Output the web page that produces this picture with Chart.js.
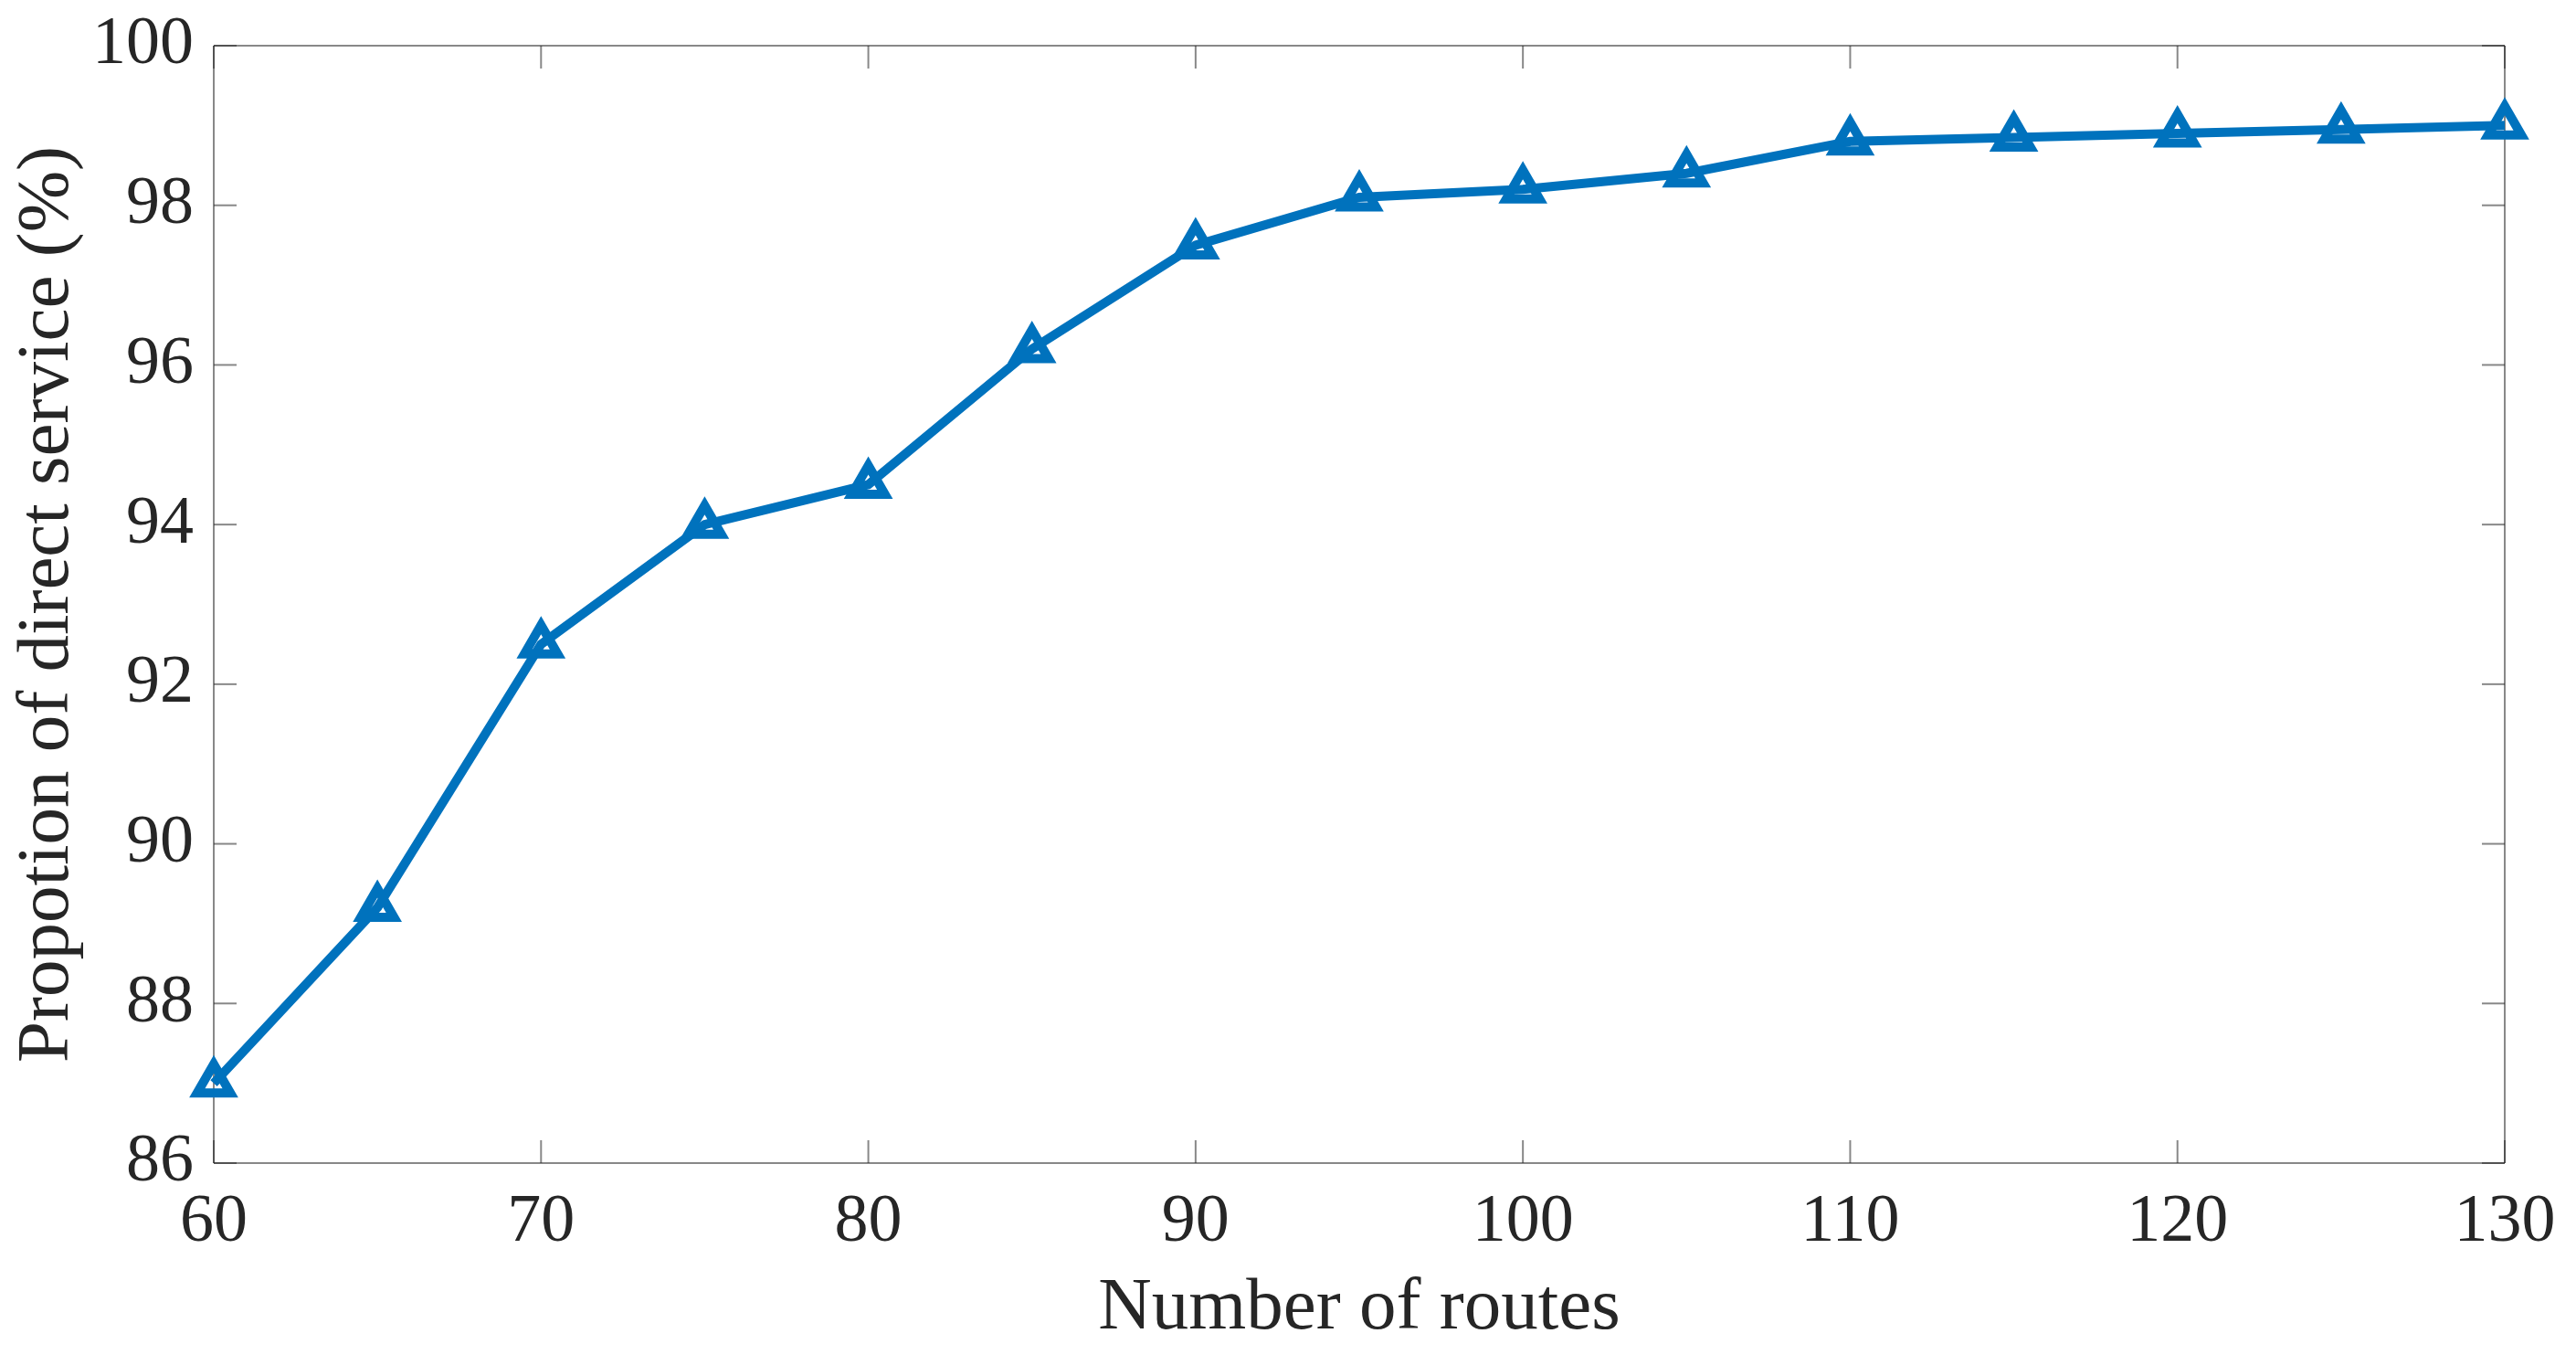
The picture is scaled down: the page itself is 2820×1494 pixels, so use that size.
<!DOCTYPE html>
<html><head><meta charset="utf-8">
<script src="https://cdn.jsdelivr.net/npm/chart.js@4"></script>
<style>html,body{margin:0;padding:0;background:#fff}#wrap{width:2820px;height:1494px}</style>
</head><body><div id="wrap"><canvas id="c" width="2820" height="1494"></canvas></div>
<script>
const routes = [60, 65, 70, 75, 80, 85, 90, 95, 100, 105, 110, 115, 120, 125, 130];
const directService = [87.0, 89.2, 92.5, 94.0, 94.5, 96.2, 97.5, 98.1, 98.2, 98.4, 98.8, 98.85, 98.9, 98.95, 99.0];
const xTicks = [60, 70, 80, 90, 100, 110, 120, 130];
const yTicks = [86, 88, 90, 92, 94, 96, 98, 100];
const xTitle = 'Number of routes';
const yTitle = 'Propotion of direct service (%)';

const FONT = "'Liberation Serif', 'Times New Roman', serif";
const TEXT = '#262626';
const BLUE = '#0072BD';
const AXIS = 'rgba(38,38,38,0.55)';

const boxTicks = {
  id: 'boxTicks',
  beforeDatasetsDraw(chart) {
    const {ctx, chartArea: a, scales: {x, y}} = chart;
    const L = 25;
    ctx.save();
    ctx.strokeStyle = AXIS;
    ctx.lineWidth = 2;
    const seg = (x1, y1, x2, y2) => { ctx.beginPath(); ctx.moveTo(x1, y1); ctx.lineTo(x2, y2); ctx.stroke(); };
    seg(a.left, a.top, a.right, a.top);
    seg(a.left, a.bottom, a.right, a.bottom);
    seg(a.left, a.top, a.left, a.bottom);
    seg(a.right, a.top, a.right, a.bottom);
    xTicks.forEach(v => {
      const px = x.getPixelForValue(v);
      seg(px, a.bottom, px, a.bottom - L);
      seg(px, a.top, px, a.top + L);
    });
    yTicks.forEach(v => {
      const py = y.getPixelForValue(v);
      seg(a.left, py, a.left + L, py);
      seg(a.right, py, a.right - L, py);
    });
    ctx.restore();
    ctx.lineJoin = 'miter';
    ctx.miterLimit = 10;
  }
};

const noPad = s => { s.paddingTop = 0; s.paddingBottom = 0; s.paddingLeft = 0; s.paddingRight = 0; };

new Chart(document.getElementById('c'), {
  type: 'line',
  data: {
    datasets: [{
      data: routes.map((r, i) => ({x: r, y: directService[i]})),
      borderColor: BLUE,
      borderWidth: 10,
      pointStyle: 'triangle',
      pointRadius: 21,
      pointBorderWidth: 10,
      pointBorderColor: BLUE,
      pointBackgroundColor: 'rgba(0,0,0,0)',
      tension: 0,
      fill: false,
      clip: false
    }]
  },
  options: {
    responsive: false,
    devicePixelRatio: 1,
    animation: false,
    layout: {padding: {top: 50, right: 78, left: 0, bottom: 0}},
    plugins: {legend: {display: false}, tooltip: {enabled: false}},
    scales: {
      x: {
        type: 'linear', min: 60, max: 130,
        afterBuildTicks: s => { s.ticks = xTicks.map(v => ({value: v})); },
        afterFit: s => { s.height = 221; noPad(s); },
        grid: {display: false, drawTicks: false},
        border: {display: false},
        ticks: {font: {family: FONT, size: 74}, color: TEXT, padding: 21, maxRotation: 0, autoSkip: false},
        title: {display: true, text: xTitle, font: {family: FONT, size: 81}, color: TEXT, padding: {top: 0, bottom: 13}}
      },
      y: {
        type: 'linear', min: 86, max: 100,
        afterBuildTicks: s => { s.ticks = yTicks.map(v => ({value: v})); },
        afterFit: s => { s.width = 234; noPad(s); },
        grid: {display: false, drawTicks: false},
        border: {display: false},
        ticks: {font: {family: FONT, size: 74}, color: TEXT, padding: 22, autoSkip: false},
        title: {display: true, text: yTitle, font: {family: FONT, size: 81}, color: TEXT, padding: {top: 4, bottom: 0}}
      }
    }
  },
  plugins: [boxTicks]
});
</script></body></html>
